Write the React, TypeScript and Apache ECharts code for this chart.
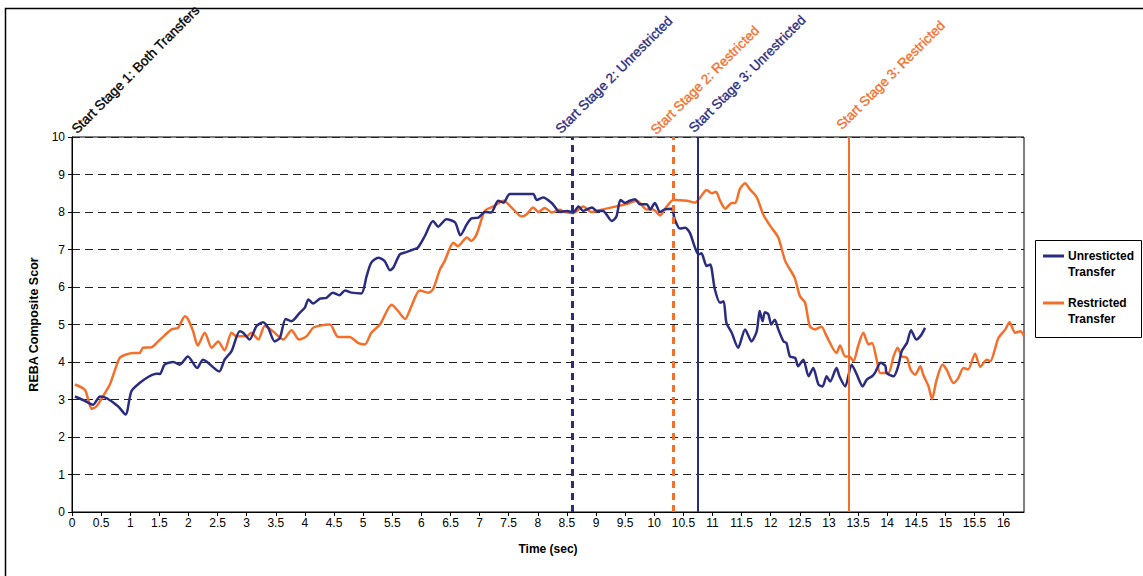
import React, { useEffect, useRef } from "react";
import * as echarts from "echarts";

// ---------- data ----------
const unrestrictedData: [number, number][] = [
  [0.05, 3.08], [0.2, 2.98], [0.36, 2.86], [0.48, 3.08], [0.59, 3.04], [0.79, 2.82], [0.92, 2.6], [1.02, 3.22],
  [1.16, 3.44], [1.33, 3.62], [1.45, 3.69], [1.51, 3.68], [1.59, 3.93], [1.74, 4.0], [1.85, 3.93], [1.99, 4.15],
  [2.15, 3.84], [2.25, 4.06], [2.53, 3.75], [2.62, 4.06], [2.74, 4.29], [2.88, 4.82], [2.94, 4.78], [3.05, 4.6],
  [3.17, 4.96], [3.28, 5.06], [3.37, 4.91], [3.48, 4.55], [3.57, 4.64], [3.67, 5.15], [3.77, 5.09], [3.91, 5.31],
  [4.0, 5.45], [4.06, 5.67], [4.14, 5.56], [4.26, 5.69], [4.37, 5.71], [4.48, 5.85], [4.59, 5.78], [4.69, 5.91],
  [4.8, 5.85], [4.97, 5.83], [5.06, 6.29], [5.14, 6.65], [5.26, 6.78], [5.37, 6.69], [5.46, 6.45], [5.52, 6.52],
  [5.63, 6.87], [5.74, 6.93], [5.86, 7.0], [5.94, 7.05], [6.06, 7.36], [6.2, 7.76], [6.29, 7.61], [6.43, 7.81],
  [6.58, 7.72], [6.67, 7.38], [6.78, 7.67], [6.86, 7.83], [6.98, 7.85], [7.09, 8.0], [7.2, 7.99], [7.32, 8.3],
  [7.41, 8.25], [7.52, 8.48], [7.92, 8.48], [7.98, 8.32], [8.09, 8.39], [8.24, 8.24], [8.38, 8.0], [8.5, 8.03],
  [8.61, 7.99], [8.7, 8.15], [8.78, 8.03], [8.93, 8.12], [9.01, 8.03], [9.12, 8.03], [9.27, 7.76], [9.35, 7.88],
  [9.42, 8.32], [9.5, 8.24], [9.58, 8.3], [9.67, 8.34], [9.75, 8.21], [9.87, 8.21], [9.93, 8.07], [10.01, 8.24],
  [10.1, 8.0], [10.18, 8.07], [10.3, 8.09], [10.35, 7.81], [10.44, 7.56], [10.53, 7.58], [10.61, 7.45], [10.7, 7.05],
  [10.76, 6.87], [10.81, 6.9], [10.9, 6.56], [10.96, 6.6], [11.04, 5.94], [11.13, 5.58], [11.19, 5.62], [11.24, 5.04],
  [11.33, 4.78], [11.44, 4.38], [11.56, 4.87], [11.67, 4.55], [11.76, 4.82], [11.81, 5.36], [11.86, 5.09], [11.9, 5.33],
  [11.96, 5.27], [12.01, 5.0], [12.07, 5.13], [12.13, 4.87], [12.22, 4.55], [12.27, 4.51], [12.33, 4.15], [12.42, 4.11],
  [12.47, 3.89], [12.56, 4.06], [12.65, 3.62], [12.73, 3.84], [12.82, 3.4], [12.89, 3.35], [12.96, 3.62], [13.02, 3.48],
  [13.13, 3.84], [13.18, 3.62], [13.28, 3.35], [13.39, 3.93], [13.48, 3.66], [13.58, 3.35], [13.65, 3.53], [13.74, 3.62],
  [13.79, 3.71], [13.89, 3.98], [13.97, 3.89], [13.99, 3.71], [14.11, 3.62], [14.19, 3.89], [14.25, 4.29], [14.34, 4.51],
  [14.41, 4.85], [14.5, 4.6], [14.58, 4.71], [14.65, 4.91],
];

const restrictedData: [number, number][] = [
  [0.05, 3.4], [0.22, 3.26], [0.28, 2.99], [0.34, 2.75], [0.42, 2.82], [0.53, 3.08], [0.65, 3.4], [0.73, 3.75],
  [0.82, 4.11], [0.93, 4.2], [1.05, 4.24], [1.16, 4.24], [1.22, 4.38], [1.36, 4.39], [1.48, 4.55], [1.59, 4.71],
  [1.71, 4.87], [1.82, 4.91], [1.94, 5.22], [1.99, 5.15], [2.08, 4.82], [2.16, 4.44], [2.28, 4.78], [2.4, 4.38],
  [2.51, 4.55], [2.62, 4.31], [2.74, 4.78], [2.82, 4.69], [3.0, 4.69], [3.08, 4.78], [3.2, 4.6], [3.31, 4.96],
  [3.45, 4.82], [3.63, 4.6], [3.77, 4.85], [3.9, 4.6], [4.03, 4.69], [4.14, 4.91], [4.26, 4.97], [4.43, 5.0],
  [4.57, 4.67], [4.77, 4.67], [4.91, 4.51], [5.03, 4.47], [5.14, 4.78], [5.29, 5.0], [5.49, 5.53], [5.6, 5.36],
  [5.72, 5.15], [5.83, 5.49], [5.97, 5.91], [6.12, 5.85], [6.2, 5.94], [6.32, 6.47], [6.4, 6.69], [6.55, 7.18],
  [6.63, 7.09], [6.78, 7.32], [6.86, 7.23], [6.95, 7.41], [7.09, 8.03], [7.24, 8.15], [7.41, 8.3], [7.58, 8.07],
  [7.72, 7.88], [7.81, 7.94], [7.92, 8.12], [8.01, 8.0], [8.12, 8.11], [8.24, 7.99], [8.38, 8.06], [8.46, 8.0],
  [8.61, 7.97], [8.78, 8.15], [8.92, 8.0], [9.12, 8.07], [9.35, 8.15], [9.52, 8.21], [9.7, 8.3], [9.87, 8.07],
  [9.98, 8.07], [10.1, 7.91], [10.2, 8.12], [10.33, 8.32], [10.56, 8.3], [10.7, 8.25], [10.79, 8.39], [10.9, 8.59],
  [10.99, 8.5], [11.06, 8.54], [11.13, 8.3], [11.22, 8.09], [11.33, 8.24], [11.39, 8.24], [11.47, 8.61], [11.56, 8.77],
  [11.64, 8.61], [11.76, 8.39], [11.87, 7.94], [11.99, 7.63], [12.13, 7.32], [12.25, 6.69], [12.41, 6.25], [12.5, 5.76],
  [12.59, 5.58], [12.67, 4.96], [12.76, 4.87], [12.87, 4.94], [12.96, 4.69], [13.13, 4.24], [13.19, 4.44], [13.28, 4.15],
  [13.35, 4.15], [13.42, 4.02], [13.5, 4.42], [13.59, 4.78], [13.68, 4.47], [13.74, 4.51], [13.82, 4.06], [13.88, 3.71],
  [14.02, 3.71], [14.11, 4.15], [14.18, 4.38], [14.25, 4.15], [14.34, 4.11], [14.4, 3.8], [14.48, 3.66], [14.57, 3.89],
  [14.62, 3.66], [14.71, 3.35], [14.77, 3.01], [14.85, 3.53], [14.95, 3.93], [15.02, 3.8], [15.14, 3.44], [15.22, 3.57],
  [15.31, 3.84], [15.39, 3.8], [15.51, 4.22], [15.6, 3.87], [15.71, 4.06], [15.77, 4.02], [15.91, 4.64], [16.03, 4.87],
  [16.1, 5.06], [16.2, 4.78], [16.29, 4.82], [16.35, 4.69],
];

const seriesNames = ["Unresticted Transfer", "Restricted Transfer"];
const legendLines = [["Unresticted", "Transfer"], ["Restricted", "Transfer"]];

const stageTimes = [0, 8.6, 10.32, 10.75, 13.34];
const stageLabels = [
  "Start Stage 1: Both Transfers",
  "Start Stage 2: Unrestricted",
  "Start Stage 2: Restricted",
  "Start Stage 3: Unrestricted",
  "Start Stage 3: Restricted",
];
const stageGroup = ["both", "unrestricted", "restricted", "unrestricted", "restricted"];

const xMin = 0;
const xMax = 16.35;
const xStep = 0.5;
const yMin = 0;
const yMax = 10;
const yStep = 1;

// ---------- styles ----------
const NAVY = "#2A2C80";
const ORANGE = "#F46F2A";
const FONT = "'Liberation Sans', Arial, Helvetica, sans-serif";
const labelOffsets: [number, number][] = [[7, -1], [-10, -1], [-15, 0], [-2, -2], [-5, -5]];

function colorFor(group: string) {
  if (group === "unrestricted") return NAVY;
  if (group === "restricted") return ORANGE;
  return "#000";
}

export default function App() {
  const ref = useRef<HTMLDivElement>(null);

  useEffect(() => {
    document.body.style.margin = "0";
    if (!ref.current) return;
    const chart = echarts.init(ref.current, null, { renderer: "svg" });

    const markData = stageTimes.slice(1).map((t, i) => {
      const idx = i + 1;
      const isStage2 = stageLabels[idx].indexOf("Stage 2") >= 0;
      return {
        xAxis: t,
        lineStyle: {
          color: colorFor(stageGroup[idx]),
          type: isStage2 ? [7, 5] : "solid",
          width: isStage2 ? 3 : 2,
        },
      };
    });

    const option: any = {
      animation: false,
      backgroundColor: "#fff",
      grid: {
        left: 72,
        right: 119,
        top: 137,
        bottom: 64,
        show: true,
        borderColor: "#000",
        borderWidth: 1,
        backgroundColor: "#fff",
      },
      xAxis: {
        type: "value",
        min: xMin,
        max: xMax,
        interval: xStep,
        name: "Time (sec)",
        nameLocation: "middle",
        nameGap: 31,
        nameTextStyle: { fontFamily: FONT, fontWeight: "bold", fontSize: 12, color: "#000" },
        axisLine: { lineStyle: { color: "#000", width: 1 } },
        axisTick: { show: true, length: 4, lineStyle: { color: "#000" } },
        axisLabel: {
          showMaxLabel: false,
          margin: 5,
          fontFamily: FONT,
          fontSize: 12,
          color: "#000",
          formatter: (v: number) => (Math.abs(v / xStep - Math.round(v / xStep)) < 1e-6 ? String(v) : ""),
        },
        splitLine: { show: false },
      },
      yAxis: {
        type: "value",
        min: yMin,
        max: yMax,
        interval: yStep,
        name: "REBA Composite Scor",
        nameLocation: "middle",
        nameGap: 30,
        nameTextStyle: { fontFamily: FONT, fontWeight: "bold", fontSize: 12.5, color: "#000" },
        axisLine: { show: true, lineStyle: { color: "#000", width: 1 } },
        axisTick: { show: true, length: 4, lineStyle: { color: "#000" } },
        axisLabel: { margin: 7, fontFamily: FONT, fontSize: 12, color: "#000" },
        splitLine: { show: true, lineStyle: { color: "#222", type: [8, 5], width: 1 } },
      },
      series: [
        {
          name: seriesNames[0],
          type: "line",
          data: unrestrictedData,
          showSymbol: false,
          smooth: 0.25,
          lineStyle: { color: NAVY, width: 2.5 },
          itemStyle: { color: NAVY },
          z: 3,
          markLine: {
            silent: true,
            symbol: ["none", "none"],
            label: { show: false },
            data: markData,
          },
        },
        {
          name: seriesNames[1],
          type: "line",
          data: restrictedData,
          showSymbol: false,
          smooth: 0.25,
          lineStyle: { color: ORANGE, width: 2.5 },
          itemStyle: { color: ORANGE },
          z: 2,
        },
      ],
    };

    chart.setOption(option);

    const graphics: any[] = [];
    // outer chart frame
    graphics.push({
      type: "rect",
      shape: { x: 5.5, y: 8.5, width: 1400, height: 1000 },
      style: { fill: "none", stroke: "#000", lineWidth: 1.5 },
      silent: true,
      z: 0,
    });

    // stage annotations
    stageTimes.forEach((t, i) => {
      const p = chart.convertToPixel({ gridIndex: 0 }, [t, yMax]) as number[];
      const c = colorFor(stageGroup[i]);
      graphics.push({
        type: "text",
        x: p[0] + labelOffsets[i][0],
        y: p[1] + labelOffsets[i][1],
        rotation: Math.PI / 4,
        style: {
          text: stageLabels[i],
          fill: c,
          stroke: c,
          lineWidth: 0.35,
          fontFamily: FONT,
          fontSize: 13.5,
          align: "left",
          verticalAlign: "bottom",
        },
        silent: true,
        z: 10,
      });
    });

    // legend box
    const lx = 1035;
    const ly = 240;
    graphics.push({
      type: "rect",
      shape: { x: lx + 0.5, y: ly + 0.5, width: 106, height: 97 },
      style: { fill: "#fff", stroke: "#000", lineWidth: 1 },
      silent: true,
      z: 10,
    });
    const legendColors = [NAVY, ORANGE];
    const rowY = [256, 303];
    legendLines.forEach((lines, i) => {
      graphics.push({
        type: "line",
        shape: { x1: lx + 8, y1: rowY[i], x2: lx + 29, y2: rowY[i] },
        style: { stroke: legendColors[i], lineWidth: 3 },
        silent: true,
        z: 11,
      });
      lines.forEach((txt, j) => {
        graphics.push({
          type: "text",
          x: lx + 33,
          y: rowY[i] + j * 15.5,
          style: {
            text: txt,
            fill: "#000",
            fontFamily: FONT,
            fontWeight: "bold",
            fontSize: 12,
            align: "left",
            verticalAlign: "middle",
          },
          silent: true,
          z: 11,
        });
      });
    });

    chart.setOption({ graphic: graphics });

    return () => {
      chart.dispose();
    };
  }, []);

  return <div ref={ref} style={{ width: 1143, height: 576 }} />;
}
